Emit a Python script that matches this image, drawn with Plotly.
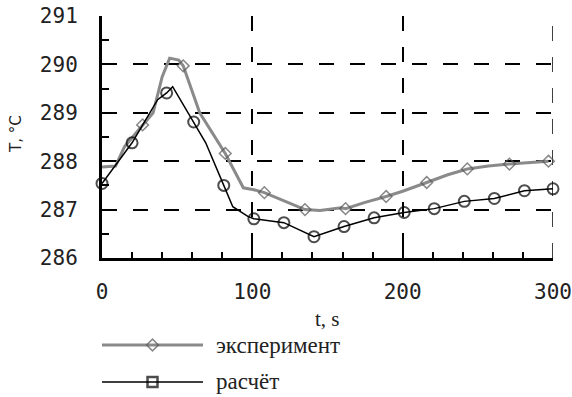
import plotly.graph_objects as go

# ---- data ----
exp_t = [0, 9, 15, 27, 34, 40, 45, 51, 54, 65, 72, 82, 94, 101, 108, 120, 135, 145, 159, 162, 175, 189, 200, 216, 230, 243, 257, 271, 285, 297]
exp_T = [287.88, 287.9, 288.3, 288.75, 289.0, 289.74, 290.13, 290.09, 289.97, 289.0, 288.65, 288.16, 287.45, 287.41, 287.35, 287.2, 287.0, 286.98, 287.04, 287.02, 287.15, 287.27, 287.38, 287.56, 287.72, 287.84, 287.9, 287.94, 287.98, 288.0]
exp_marker = [0, 0, 0, 1, 0, 0, 0, 0, 1, 0, 0, 1, 0, 0, 1, 0, 1, 0, 0, 1, 0, 1, 0, 1, 0, 1, 0, 1, 0, 1]

calc_t = [0, 20, 37, 43, 47, 61, 69, 81, 87, 97, 101, 121, 141, 161, 181, 201, 221, 241, 261, 281, 300]
calc_T = [287.54, 288.38, 289.27, 289.41, 289.54, 288.81, 288.38, 287.5, 287.06, 286.86, 286.81, 286.73, 286.44, 286.65, 286.83, 286.94, 287.02, 287.17, 287.23, 287.39, 287.43]
calc_marker = [1, 1, 0, 1, 0, 1, 0, 1, 0, 0, 1, 1, 1, 1, 1, 1, 1, 1, 1, 1, 1]

legend_names = ["эксперимент", "расчёт"]
x_range = [0, 300]
y_range = [286, 291]

GRAY = "#8a8a8a"
TICKFONT = dict(family="DejaVu Sans Mono", size=21, color="#222")

fig = go.Figure()

fig.add_trace(go.Scatter(
    x=exp_t, y=exp_T, mode="lines+markers",
    line=dict(color=GRAY, width=3),
    marker=dict(symbol="diamond-open", size=[9 if m else 0 for m in exp_marker],
                color="#555", line=dict(width=1.5, color="#555")),
    cliponaxis=False, showlegend=False))

fig.add_trace(go.Scatter(
    x=calc_t, y=calc_T, mode="lines+markers",
    line=dict(color="black", width=1.5),
    marker=dict(symbol="circle-open", size=[11 if m else 0 for m in calc_marker],
                color="black", line=dict(width=2, color="black")),
    cliponaxis=False, showlegend=False))

# legend samples on their own small axes
fig.add_trace(go.Scatter(x=[0, 0.5, 1], y=[52, 52, 52], mode="lines+markers",
                         xaxis="x2", yaxis="y2",
                         line=dict(color=GRAY, width=3),
                         marker=dict(symbol="diamond-open", size=[0, 9, 0], color="#555",
                                     line=dict(width=1.5, color="#555")),
                         cliponaxis=False, showlegend=False, hoverinfo="skip"))
fig.add_trace(go.Scatter(x=[0, 0.5, 1], y=[15, 15, 15], mode="lines+markers",
                         xaxis="x2", yaxis="y2",
                         line=dict(color="black", width=1.5),
                         marker=dict(symbol="square-open", size=[0, 10, 0], color="black",
                                     line=dict(width=2.5, color="black")),
                         cliponaxis=False, showlegend=False, hoverinfo="skip"))

H = 397
Y_DOM_LOW = (H - 258) / (H - 16)

grid = dict(showgrid=True, gridcolor="black", gridwidth=1.5, griddash="15px,16px")

fig.update_layout(
    width=572, height=397,
    margin=dict(l=102, r=19, t=16, b=0),
    plot_bgcolor="white", paper_bgcolor="white",
    xaxis=dict(range=x_range, tick0=0, dtick=100, showline=True, linecolor="black", linewidth=3,
               ticks="inside", ticklen=13, tickwidth=2, tickcolor="black",
               minor=dict(dtick=20, ticks="inside", ticklen=6, tickwidth=2, tickcolor="black", showgrid=False),
               zeroline=False, tickfont=TICKFONT, ticklabelstandoff=13, anchor="y",
               automargin=False, ticklabeloverflow="allow", **grid),
    yaxis=dict(range=y_range, tick0=286, dtick=1, domain=[Y_DOM_LOW, 1],
               showline=True, linecolor="black", linewidth=3,
               ticks="inside", ticklen=14, tickwidth=2, tickcolor="black",
               minor=dict(dtick=0.5, ticks="inside", ticklen=7, tickwidth=2, tickcolor="black", showgrid=False),
               zeroline=False, tickfont=TICKFONT, ticklabelstandoff=17, anchor="x",
               automargin=False, ticklabeloverflow="allow", **grid),
    xaxis2=dict(domain=[0, 101 / 451], range=[0, 1], visible=False, anchor="y2"),
    yaxis2=dict(domain=[0, 0.2], range=[0, 0.2 * (H - 16)], visible=False, anchor="x2"),
)

# dashed grid line along the right edge (x = 300) as in the original
fig.add_shape(type="line", xref="x", yref="y", x0=x_range[1], x1=x_range[1], y0=y_range[0], y1=y_range[1],
              line=dict(color="black", width=1.5, dash="15px,16px"), layer="below")

fig.add_annotation(text="t, s", xref="paper", yref="paper",
                   x=0.5, y=(H - 319) / (H - 16), xanchor="center", yanchor="middle",
                   showarrow=False, font=dict(family="Liberation Serif", size=21, color="#222"))
fig.add_annotation(text="T, °C", xref="paper", yref="paper",
                   x=(16 - 102) / 451, y=(H - 134) / (H - 16), xanchor="center", yanchor="middle",
                   textangle=-90, showarrow=False,
                   font=dict(family="DejaVu Sans", size=15, color="#222"))
for name, py in zip(legend_names, [345, 381]):
    fig.add_annotation(text=name, xref="paper", yref="paper",
                       x=(214 - 102) / 451, y=(H - py) / (H - 16), xanchor="left", yanchor="middle",
                       showarrow=False, font=dict(family="Liberation Serif", size=23, color="#222"))

fig.write_html("out.html", config={"displayModeBar": False},
               post_script="document.body.style.margin='0';document.body.style.overflow='hidden';")
